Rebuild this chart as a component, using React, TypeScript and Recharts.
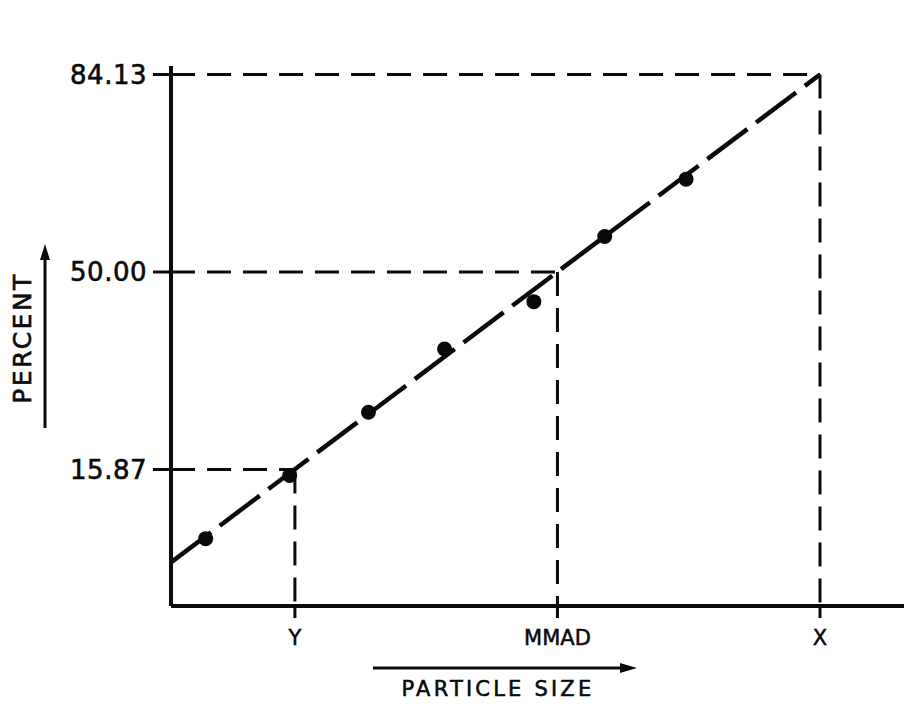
import { ComposedChart, Line, Scatter, XAxis, YAxis, ReferenceLine } from "recharts"

// particle size in log units (Y = 1, MMAD = 2, X = 3), percent in probit units
const sizeTicks = [1, 2, 3]
const sizeLabels = ["Y", "MMAD", "X"]
const percentTicks = [-1, 0, 1]
const percentLabels = ["15.87", "50.00", "84.13"]

const pointSize = [0.66, 0.98, 1.28, 1.57, 1.91, 2.18, 2.49]
const pointPercent = [-1.35, -1.03, -0.71, -0.39, -0.15, 0.18, 0.47]

const fitSize = [0.528, 3]
const fitPercent = [-1.47, 1]

const xDomain = [0.528, 3.32]
const yDomain = [-1.691, 1.043]

const points = pointSize.map((x, i) => ({ x, z: pointPercent[i] }))
const fit = fitSize.map((x, i) => ({ x, z: fitPercent[i] }))

const ink = "#0a0a0a"
const font = "'DejaVu Sans', sans-serif"

function PercentLabel(props: any) {
  const vb = props.viewBox || { x: 0, y: 0, width: 0, height: 0 }
  const cx = vb.x + 22
  const cy = 338
  const ax = vb.x + 45
  return (
    <g>
      <text
        x={cx}
        y={cy}
        transform={`rotate(-90 ${cx} ${cy})`}
        textAnchor="middle"
        dominantBaseline="central"
        fontFamily={font}
        fontSize={25}
        letterSpacing={2.5}
        fill={ink}
        stroke={ink}
        strokeWidth={0.6}
      >
        PERCENT
      </text>
      <line x1={ax} y1={428} x2={ax} y2={256} stroke={ink} strokeWidth={3} />
      <polygon points={`${ax - 5},${260} ${ax + 5},${260} ${ax},${244}`} fill={ink} />
    </g>
  )
}

function SizeLabel(props: any) {
  const vb = props.viewBox || { x: 0, y: 0, width: 0, height: 0 }
  const top = vb.y
  return (
    <g>
      <line x1={373} y1={top + 62} x2={622} y2={top + 62} stroke={ink} strokeWidth={3} />
      <polygon points={`${620},${top + 57} ${620},${top + 67} ${637},${top + 62}`} fill={ink} />
      <text
        x={498}
        y={top + 83}
        textAnchor="middle"
        dominantBaseline="central"
        fontFamily={font}
        fontSize={21}
        letterSpacing={3.2}
        fill={ink}
        stroke={ink}
        strokeWidth={0.6}
      >
        PARTICLE SIZE
      </text>
    </g>
  )
}

export default function App() {
  const dash = { stroke: ink, strokeWidth: 3, strokeDasharray: "24 12" }
  return (
    <div style={{ position: "absolute", left: 0, top: 0, background: "#fff" }}>
      <ComposedChart width={904} height={704} margin={{ top: 66, right: 0, left: 0, bottom: 0 }}>
        <XAxis
          type="number"
          dataKey="x"
          domain={xDomain}
          ticks={sizeTicks}
          tickFormatter={(v: number) => sizeLabels[sizeTicks.indexOf(v)] ?? ""}
          height={98}
          allowDataOverflow
          axisLine={{ stroke: ink, strokeWidth: 4 }}
          tickLine={{ stroke: ink, strokeWidth: 3 }}
          tickSize={12}
          tickMargin={12}
          tick={{ fill: ink, fontSize: 21, fontFamily: font, stroke: ink, strokeWidth: 0.5 }}
          label={<SizeLabel />}
        />
        <YAxis
          type="number"
          dataKey="z"
          domain={yDomain}
          ticks={percentTicks}
          tickFormatter={(v: number) => percentLabels[percentTicks.indexOf(v)] ?? ""}
          width={171}
          allowDataOverflow
          axisLine={{ stroke: ink, strokeWidth: 4 }}
          tickLine={{ stroke: ink, strokeWidth: 3 }}
          tickSize={18}
          tickMargin={6}
          tick={{ fill: ink, fontSize: 26, fontFamily: font, letterSpacing: 0.5, stroke: ink, strokeWidth: 0.6 }}
          label={<PercentLabel />}
        />
        {sizeTicks.map((s, i) => (
          <ReferenceLine
            key={"h" + s}
            segment={[
              { x: xDomain[0], y: percentTicks[i] },
              { x: s, y: percentTicks[i] },
            ]}
            {...dash}
          />
        ))}
        {sizeTicks.map((s, i) => (
          <ReferenceLine
            key={"v" + s}
            segment={[
              { x: s, y: percentTicks[i] },
              { x: s, y: yDomain[0] },
            ]}
            {...dash}
          />
        ))}
        <Line
          data={fit}
          dataKey="z"
          type="linear"
          stroke={ink}
          strokeWidth={4.5}
          strokeDasharray="50 11"
          dot={false}
          activeDot={false}
          isAnimationActive={false}
        />
        <Scatter
          data={points}
          dataKey="z"
          fill={ink}
          isAnimationActive={false}
          shape={(p: any) => <circle cx={p.cx} cy={p.cy} r={7.5} fill={ink} />}
        />
      </ComposedChart>
    </div>
  )
}
